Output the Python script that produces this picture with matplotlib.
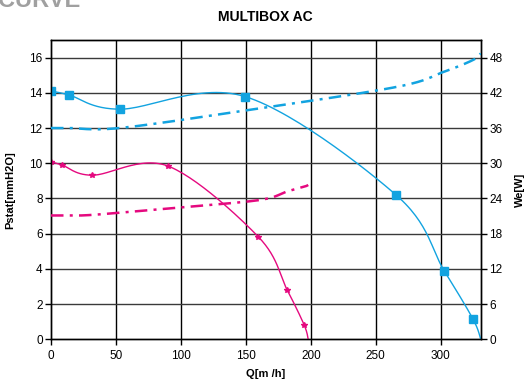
import numpy as np
import matplotlib
matplotlib.use("Agg")
import matplotlib.pyplot as plt

plt.rcParams['font.family'] = ['Liberation Sans', 'DejaVu Sans']

# ---- data ----
q_blue = [0, 13.8, 52.8, 149.7, 265.9, 302.6, 324.9, 330.8]
p_blue = [14.1, 13.88, 13.07, 13.78, 8.18, 3.9, 1.14, 0.0]
w_blue = [36.0, 36.0, 36.0, 39.0, 43.0, 45.6, 47.6, 48.7]

q_pink = [0, 8.5, 31.8, 89.7, 159.5, 181.8, 194.9, 198.0]
p_pink = [10.07, 9.9, 9.32, 9.85, 5.83, 2.8, 0.81, 0.0]
w_pink = [21.1, 21.1, 21.2, 22.3, 23.7, 25.2, 26.0, 26.3]

x_ticks = [0, 50, 100, 150, 200, 250, 300]
y_left_ticks = [0, 2, 4, 6, 8, 10, 12, 14, 16]
y_right_ticks = [0, 6, 12, 18, 24, 30, 36, 42, 48]

BLUE = '#12A3E0'
PINK = '#E5097F'

XMAX, YMAX = 331, 17.0


def smooth(xs, ys, sx, sy, n=30):
    """Excel-style smoothed line (Catmull-Rom Bezier) computed in screen-scaled space."""
    P = np.column_stack([np.asarray(xs, float) * sx, np.asarray(ys, float) * sy])
    out = [P[0]]
    m = len(P)
    for i in range(m - 1):
        p0 = P[i - 1] if i > 0 else P[i]
        p1, p2 = P[i], P[i + 1]
        p3 = P[i + 2] if i + 2 < m else P[i + 1]
        c1 = p1 + (p2 - p0) / 6.0
        c2 = p2 - (p3 - p1) / 6.0
        t = np.linspace(0, 1, n)[1:, None]
        seg = ((1 - t) ** 3) * p1 + 3 * ((1 - t) ** 2) * t * c1 + 3 * (1 - t) * t ** 2 * c2 + t ** 3 * p2
        out.extend(seg)
    out = np.array(out)
    return out[:, 0] / sx, out[:, 1] / sy


fig = plt.figure(figsize=(5.31, 3.80), dpi=100)
ax = fig.add_axes([51 / 531, 1 - 339.3 / 380, 430 / 531, 299.3 / 380])
ax2 = ax.twinx()

sx = 430 / XMAX
sy = 299.3 / YMAX

# grid
for xv in x_ticks[1:]:
    ax.axvline(xv, color='black', lw=1.0, zorder=1)
for yv in y_left_ticks[1:]:
    ax.axhline(yv, color='#3a3a3a', lw=1.0, zorder=1)

# pressure curves (left axis)
x, y = smooth(q_blue, p_blue, sx, sy)
ax.plot(x, y, color=BLUE, lw=1.0, zorder=3)
ax.plot(q_blue[:-1], p_blue[:-1], ls='none', marker='s', ms=5.5, color=BLUE, zorder=4)

x, y = smooth(q_pink, p_pink, sx, sy)
ax.plot(x, y, color=PINK, lw=1.0, zorder=3)
ax.plot(q_pink[:-1], p_pink[:-1], ls='none', marker='*', ms=3.8, color=PINK, zorder=4)

# power curves (right axis)
sy2 = 299.3 / (YMAX * 3)
x, y = smooth(q_blue, w_blue, sx, sy2)
ax2.plot(x, y, color=BLUE, lw=1.8, dashes=(5, 2.5, 1.2, 2.5), zorder=3)
x, y = smooth(q_pink, w_pink, sx, sy2)
ax2.plot(x, y, color=PINK, lw=1.8, dashes=(5, 2.5, 1.2, 2.5), zorder=3)

ax.set_xlim(0, XMAX)
ax.set_ylim(0, YMAX)
ax2.set_ylim(0, YMAX * 3)
ax.set_xticks(x_ticks)
ax.set_yticks(y_left_ticks)
ax2.set_yticks(y_right_ticks)

for a in (ax, ax2):
    for s in a.spines.values():
        s.set_color('black')
        s.set_linewidth(1.0)
ax.tick_params(axis='both', direction='out', length=4, width=1, labelsize=8.5, pad=2)
ax2.tick_params(axis='y', direction='out', length=4, width=1, labelsize=8.5, pad=2)
ax.tick_params(axis='x', pad=4)

ax.set_ylabel('Pstat[mmH2O]', fontsize=8, fontweight='bold', labelpad=10)
ax2.set_ylabel('We[W]', fontsize=8, fontweight='bold', rotation=90, labelpad=9)
ax.set_xlabel('Q[m /h]', fontsize=8, fontweight='bold', labelpad=5)

fig.text(265 / 531, 1 - 17 / 380, 'MULTIBOX AC', ha='center', va='center',
         fontsize=10, fontweight='bold')
fig.text(-2 / 531, 1 - 7 / 380, 'CURVE', ha='left', va='baseline',
         fontsize=17, fontweight='bold', color='#a0a0a0',
         family=['Liberation Sans Narrow', 'Liberation Sans'])

fig.savefig('out.png', dpi=100)
